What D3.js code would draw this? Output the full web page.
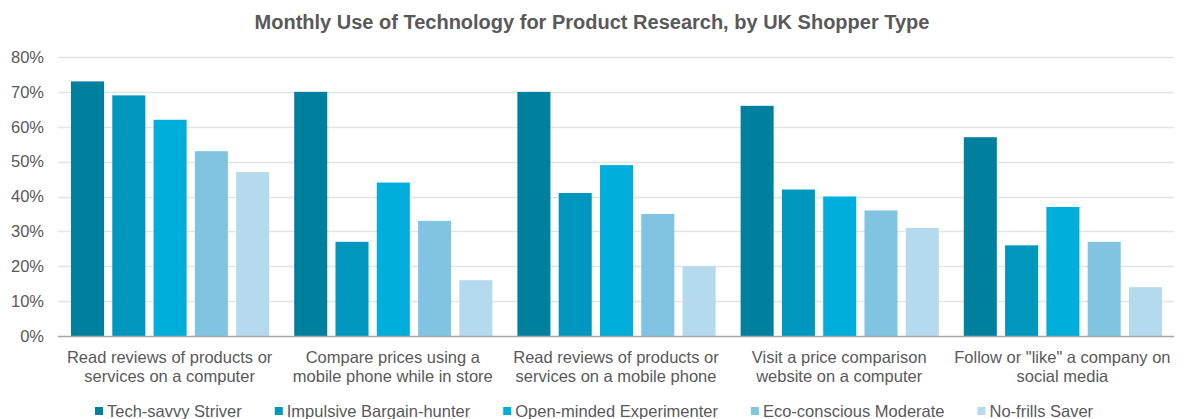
<!DOCTYPE html>
<html>
<head>
<meta charset="utf-8">
<script src="https://cdn.jsdelivr.net/npm/d3@7"></script>
<style>
  body { margin: 0; background: #fff; }
  text { font-family: "Liberation Sans", Arial, sans-serif; fill: #595959; }
</style>
</head>
<body>
<div id="app"></div>
<script>
"use strict";

// categories (two-line labels)
const categories = [
  ["Read reviews of products or", "services on a computer"],
  ["Compare prices using a", "mobile phone while in store"],
  ["Read reviews of products or", "services on a mobile phone"],
  ["Visit a price comparison", "website on a computer"],
  ["Follow or \"like\" a company on", "social media"]
];
const seriesNames = ["Tech-savvy Striver", "Impulsive Bargain-hunter", "Open-minded Experimenter", "Eco-conscious Moderate", "No-frills Saver"];
const seriesColors = ["#00809f", "#0097bf", "#00aedb", "#80c4e2", "#b5d9ed"];

// values in %, one array per series
const techSavvy   = [73, 70, 70, 66, 57];
const impulsive   = [69, 27, 41, 42, 26];
const openMinded  = [62, 44, 49, 40, 37];
const ecoConscious = [53, 33, 35, 36, 27];
const noFrills    = [47, 16, 20, 31, 14];
const seriesValues = [techSavvy, impulsive, openMinded, ecoConscious, noFrills];

const yTicks = [0, 10, 20, 30, 40, 50, 60, 70, 80];

const width = 1190, height = 419;
const margin = { top: 57, right: 16, bottom: 83, left: 58 };

/**
 * Builds the chart
 */
const draw = () => {
  const svg = d3.select("#app").append("svg")
    .attr("width", width)
    .attr("height", height);

  const x0 = d3.scaleBand()
    .domain(d3.range(categories.length))
    .range([margin.left, width - margin.right]);

  const x1 = d3.scaleBand()
    .domain(d3.range(seriesNames.length))
    .range([13, 211.2])
    .paddingInner(0.2);

  const y = d3.scaleLinear()
    .domain([0, 80])
    .range([height - margin.bottom, margin.top]);

  // title
  svg.append("text")
    .attr("x", 592)
    .attr("y", 29)
    .attr("text-anchor", "middle")
    .style("font-size", "20px")
    .style("font-weight", "bold")
    .text("Monthly Use of Technology for Product Research, by UK Shopper Type");

  // gridlines
  svg.append("g")
    .selectAll("line")
    .data(yTicks.filter(d => d > 0))
    .join("line")
    .attr("x1", margin.left)
    .attr("x2", width - margin.right)
    .attr("y1", d => Math.round(y(d)) + 0.5)
    .attr("y2", d => Math.round(y(d)) + 0.5)
    .attr("stroke", "#e3e3e3")
    .attr("stroke-width", 1.5);

  // y axis labels
  const yAxis = svg.append("g")
    .attr("transform", `translate(${margin.left},0)`)
    .call(d3.axisLeft(y).tickValues(yTicks).tickSize(0).tickPadding(14).tickFormat(d => d + "%"));
  yAxis.select(".domain").remove();
  yAxis.selectAll("text")
    .style("font-size", "16.5px")
    .style("fill", "#595959")
    .style("font-family", "\"Liberation Sans\", Arial, sans-serif");

  // bars
  const groups = svg.append("g")
    .selectAll("g")
    .data(categories.map((c, i) => i))
    .join("g")
    .attr("transform", i => `translate(${x0(i)},0)`);

  groups.selectAll("rect")
    .data(i => seriesValues.map((vals, s) => ({ s, v: vals[i] })))
    .join("rect")
    .attr("x", d => x1(d.s))
    .attr("width", x1.bandwidth())
    .attr("y", d => y(d.v))
    .attr("height", d => y(0) - y(d.v))
    .attr("fill", d => seriesColors[d.s]);

  // baseline
  svg.append("line")
    .attr("x1", margin.left)
    .attr("x2", width - margin.right)
    .attr("y1", y(0) + 0.5)
    .attr("y2", y(0) + 0.5)
    .attr("stroke", "#a6a6a6")
    .attr("stroke-width", 1.5);

  // category labels
  const catLabels = svg.append("g")
    .selectAll("text")
    .data(categories)
    .join("text")
    .attr("x", (d, i) => x0(i) + x0.bandwidth() / 2)
    .attr("text-anchor", "middle")
    .style("font-size", "16.5px");
  catLabels.selectAll("tspan")
    .data(d => d)
    .join("tspan")
    .attr("x", function () { return d3.select(this.parentNode).attr("x"); })
    .attr("y", (d, j) => 363 + j * 19)
    .text(d => d);

  // legend
  const legend = svg.append("g");
  let cx = 95;
  seriesNames.forEach((name, s) => {
    legend.append("rect")
      .attr("x", cx)
      .attr("y", 407)
      .attr("width", 8)
      .attr("height", 8)
      .attr("fill", seriesColors[s]);
    const t = legend.append("text")
      .attr("x", cx + 12)
      .attr("y", 417)
      .style("font-size", "16.5px")
      .text(name);
    cx += 12 + t.node().getComputedTextLength() + 33;
  });
};

draw();
</script>
</body>
</html>
